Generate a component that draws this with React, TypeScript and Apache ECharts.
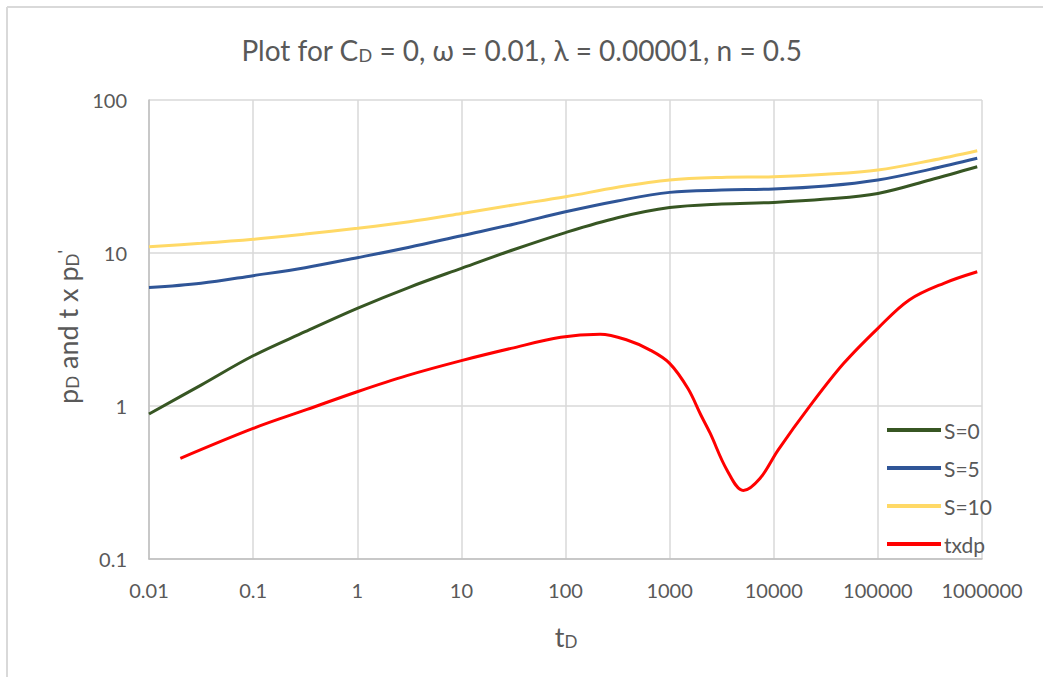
import React, { useEffect, useRef } from "react";
import * as echarts from "echarts";

const FONT = "Lato, 'Open Sans', sans-serif";
const TEXT_COLOR = "#595959";

const xTickLabels = ["0.01", "0.1", "1", "10", "100", "1000", "10000", "100000", "1000000"];
const yTickLabels = ["0.1", "1", "10", "100"];

const tS = [0.01, 0.0316, 0.1, 0.316, 1, 3.16, 10, 31.6, 100, 316, 1000, 3162, 10000, 31623, 100000, 316228, 900000];
const s0 = [0.887, 1.37, 2.13, 3.06, 4.35, 5.97, 7.94, 10.5, 13.6, 17.0, 19.8, 20.9, 21.4, 22.5, 24.5, 30.0, 36.6];
const s5 = [5.94, 6.34, 7.11, 8.02, 9.32, 10.9, 12.97, 15.4, 18.6, 21.9, 24.9, 25.8, 26.2, 27.4, 30.0, 35.2, 41.6];
const s10 = [10.99, 11.57, 12.3, 13.3, 14.5, 16.0, 18.1, 20.6, 23.3, 26.9, 30.0, 31.2, 31.5, 32.7, 34.9, 40.1, 46.6];

const tR = [0.02, 0.1, 0.33, 1, 3, 10, 30, 90, 215, 390, 650, 1000, 1500, 2000, 2450, 3550, 5100, 7400, 11000, 22000, 47000, 100000, 200000, 430000, 900000];
const txdp = [0.455, 0.714, 0.95, 1.24, 1.58, 1.98, 2.38, 2.81, 2.94, 2.70, 2.32, 1.90, 1.30, 0.87, 0.664, 0.382, 0.280, 0.337, 0.515, 0.99, 1.90, 3.22, 4.93, 6.34, 7.54];

const seriesNames = ["S=0", "S=5", "S=10", "txdp"];
const seriesColors = ["#375623", "#2F5597", "#FFD966", "#FF0000"];

const pairs = (xs: number[], ys: number[]) => xs.map((x, i) => [x, ys[i]]);

export default function App() {
  const ref = useRef<HTMLDivElement>(null);

  useEffect(() => {
    if (!ref.current) return;
    const chart = echarts.init(ref.current, null, { renderer: "svg" });
    const data = [pairs(tS, s0), pairs(tS, s5), pairs(tS, s10), pairs(tR, txdp)];
    const labelFor = (v: number, labels: string[], minExp: number) => {
      const idx = Math.round(Math.log10(v)) - minExp;
      return labels[idx] ?? "";
    };
    const big = { fontFamily: FONT, fontWeight: "normal", color: TEXT_COLOR };
    const gbig = { fontFamily: FONT, fontWeight: "normal", fill: TEXT_COLOR };
    chart.setOption({
      animation: false,
      backgroundColor: "#ffffff",
      title: {
        text: "{a|Plot for C}{s|D}{a| = 0, ω = 0.01, λ = 0.00001, n = 0.5}",
        left: "center",
        top: 23,
        textStyle: {
          fontWeight: "normal",
          rich: {
            a: { ...big, fontSize: 28, lineHeight: 36, verticalAlign: "bottom" },
            s: { ...big, fontSize: 18, lineHeight: 18, verticalAlign: "bottom" },
          },
        },
      },
      grid: { left: 149, right: 61, top: 100, bottom: 118, containLabel: false },
      legend: {
        orient: "vertical",
        left: 882,
        top: 414,
        icon: "rect",
        itemWidth: 54,
        itemHeight: 4,
        itemGap: 16,
        data: seriesNames,
        textStyle: { fontFamily: FONT, fontSize: 21, color: TEXT_COLOR, lineHeight: 22, padding: [0, 0, 0, -2] },
      },
      xAxis: {
        type: "log",
        logBase: 10,
        min: 0.01,
        max: 1000000,
        axisLine: { show: true, lineStyle: { color: "#bfbfbf", width: 1.5 } },
        axisTick: { show: false },
        minorTick: { show: false },
        splitLine: { show: true, lineStyle: { color: "#d9d9d9", width: 1.5 } },
        axisLabel: {
          margin: 21,
          fontFamily: FONT,
          fontSize: 20,
          color: TEXT_COLOR,
          formatter: (v: number) => labelFor(v, xTickLabels, -2),
        },
      },
      yAxis: {
        type: "log",
        logBase: 10,
        min: 0.1,
        max: 100,
        axisLine: { show: true, lineStyle: { color: "#bfbfbf", width: 1.5 } },
        axisTick: { show: false },
        minorTick: { show: false },
        splitLine: { show: true, lineStyle: { color: "#d9d9d9", width: 1.5 } },
        axisLabel: {
          margin: 22,
          fontFamily: FONT,
          fontSize: 20,
          color: TEXT_COLOR,
          formatter: (v: number) => labelFor(v, yTickLabels, -1),
        },
      },
      graphic: [
        {
          type: "line",
          shape: { x1: 7, y1: 7, x2: 1043, y2: 7 },
          style: { stroke: "#d9d9d9", lineWidth: 2 },
        },
        {
          type: "line",
          shape: { x1: 7, y1: 7, x2: 7, y2: 677 },
          style: { stroke: "#d9d9d9", lineWidth: 2 },
        },
        {
          type: "text",
          x: 64,
          y: 327,
          rotation: Math.PI / 2,
          style: {
            text: "{a|p}{s|D}{a| and t x p}{s|D}{p|'}",
            align: "center",
            verticalAlign: "middle",
            fill: TEXT_COLOR,
            rich: {
              a: { ...gbig, fontSize: 27, lineHeight: 34, verticalAlign: "bottom" },
              s: { ...gbig, fontSize: 17, lineHeight: 17, verticalAlign: "bottom" },
              p: { ...gbig, fontSize: 17, lineHeight: 24, verticalAlign: "middle" },
            },
          },
        },
        {
          type: "text",
          x: 566,
          y: 633,
          style: {
            text: "{a|t}{s|D}",
            align: "center",
            verticalAlign: "middle",
            fill: TEXT_COLOR,
            rich: {
              a: { ...gbig, fontSize: 27, lineHeight: 34, verticalAlign: "bottom" },
              s: { ...gbig, fontSize: 17, lineHeight: 17, verticalAlign: "bottom" },
            },
          },
        },
      ],
      series: seriesNames.map((name, i) => ({
        name,
        type: "line",
        data: data[i],
        smooth: 0.35,
        showSymbol: false,
        symbol: "none",
        color: seriesColors[i],
        lineStyle: { color: seriesColors[i], width: 3 },
      })),
    });
    return () => chart.dispose();
  }, []);

  return (
    <div style={{ position: "fixed", left: 0, top: 0, width: 1043, height: 677, background: "#fff" }}>
      <div ref={ref} style={{ width: 1043, height: 677 }} />
    </div>
  );
}
